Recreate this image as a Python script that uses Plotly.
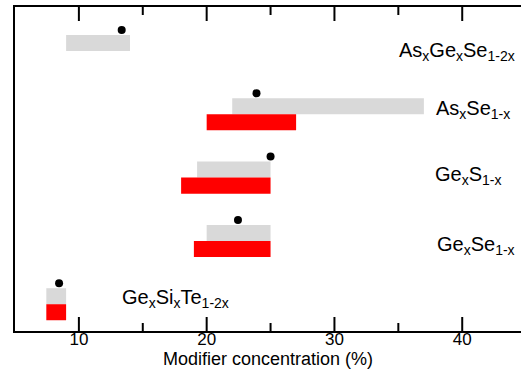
import plotly.graph_objects as go

# Data
labels = ["As<sub>x</sub>Ge<sub>x</sub>Se<sub>1-2x</sub>",
          "As<sub>x</sub>Se<sub>1-x</sub>",
          "Ge<sub>x</sub>S<sub>1-x</sub>",
          "Ge<sub>x</sub>Se<sub>1-x</sub>",
          "Ge<sub>x</sub>Si<sub>x</sub>Te<sub>1-2x</sub>"]
rows = [4, 3, 2, 1, 0]
gray_start = [9.0, 22.0, 19.25, 20.0, 7.45]
gray_end = [14.0, 37.0, 25.0, 25.0, 9.0]
red_start = [None, 20.0, 18.0, 19.0, 7.45]
red_end = [None, 27.0, 25.0, 25.0, 9.0]
dots = [13.35, 23.9, 25.0, 22.45, 8.45]

major_ticks = [10, 20, 30, 40]
minor_ticks = [15, 25, 35]

# label placement (data coords) and anchors
label_x = [44.3, 43.9, 43.2, 44.3, 13.25]
label_y = [4.0, 3.08, 2.04, 0.92, 0.09]
label_anchor = ["right", "right", "right", "right", "left"]

X_RANGE = [5, 44.6]
BAR_H = 0.253
DOT_OFF = 0.332

fig = go.Figure()

fig.add_trace(go.Bar(
    orientation="h",
    y=[r + BAR_H / 2 for r in rows],
    base=gray_start,
    x=[e - s for s, e in zip(gray_start, gray_end)],
    width=BAR_H,
    marker=dict(color="#d9d9d9", line=dict(width=0)),
    showlegend=False,
))

ry, rb, rx = [], [], []
for r, s, e in zip(rows, red_start, red_end):
    if s is None:
        continue
    ry.append(r - BAR_H / 2)
    rb.append(s)
    rx.append(e - s)
fig.add_trace(go.Bar(
    orientation="h",
    y=ry, base=rb, x=rx,
    width=BAR_H,
    marker=dict(color="#ff0000", line=dict(width=0)),
    showlegend=False,
))

fig.add_trace(go.Scatter(
    x=dots,
    y=[r + DOT_OFF for r in rows],
    mode="markers",
    marker=dict(color="black", size=8),
    showlegend=False,
))

for t, x, y, a in zip(labels, label_x, label_y, label_anchor):
    fig.add_annotation(x=x, y=y, text=t, showarrow=False,
                       xanchor=a, yanchor="middle",
                       font=dict(size=20, color="black"))

# inside tick marks on bottom and top edges, placed on the x scale
for vals, ln in ((major_ticks, 14), (minor_ticks, 8)):
    for v in vals:
        for anchor, sign in ((0, 1), (1, -1)):
            fig.add_shape(type="line", xref="x", yref="paper",
                          ysizemode="pixel", yanchor=anchor,
                          x0=v, x1=v, y0=0, y1=sign * ln,
                          line=dict(color="black", width=2), layer="above")

fig.update_layout(
    width=521, height=382,
    margin=dict(l=15, r=0, t=7, b=51),
    plot_bgcolor="white", paper_bgcolor="white",
    font=dict(family="Liberation Sans, Arial, sans-serif", color="black", size=17),
    barmode="overlay",
    xaxis=dict(range=X_RANGE, showgrid=False, zeroline=False,
               showline=True, linewidth=2, linecolor="black", mirror=True,
               ticks="", tickmode="array", tickvals=major_ticks,
               tickfont=dict(size=17), ticklabelstandoff=-8,
               title=dict(text="Modifier concentration (%)", font=dict(size=18), standoff=0)),
    yaxis=dict(range=[-0.423, 4.695], showgrid=False, zeroline=False,
               showline=True, linewidth=2, linecolor="black",
               showticklabels=False, ticks=""),
)

fig.write_html("out.html")
